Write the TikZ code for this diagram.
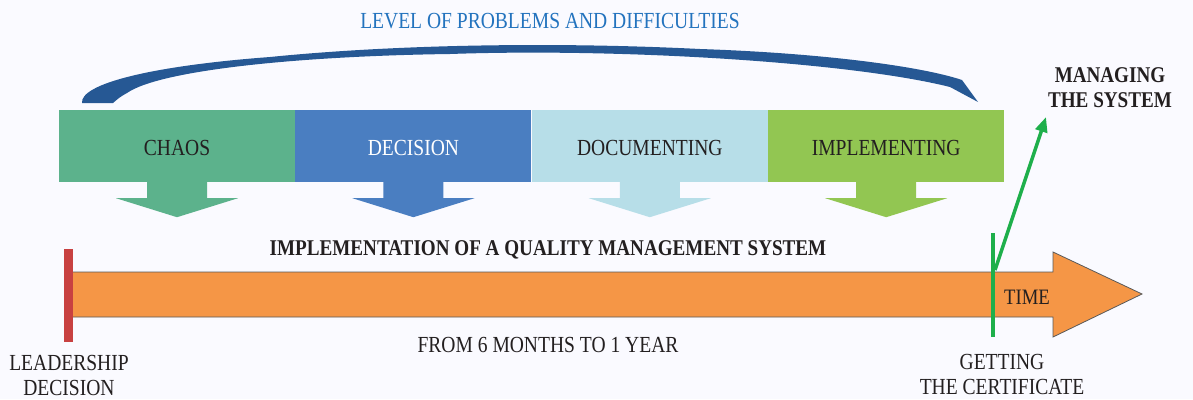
\documentclass[tikz,border=0pt]{standalone}
\usepackage{fontspec}
\setmainfont{Liberation Serif}[FakeStretch=0.85]
\usetikzlibrary{arrows.meta,calc,positioning}

\definecolor{titleblue}{RGB}{35,115,190}
\definecolor{arcblue}{RGB}{38,88,148}
\definecolor{chaosgreen}{RGB}{92,178,140}
\definecolor{decisionblue}{RGB}{74,126,193}
\definecolor{docblue}{RGB}{183,222,232}
\definecolor{implgreen}{RGB}{146,198,82}
\definecolor{timeorange}{RGB}{245,150,70}
\definecolor{leaderred}{RGB}{200,65,65}
\definecolor{certgreen}{RGB}{30,175,75}
\definecolor{inkgray}{RGB}{35,31,32}

\begin{document}
\begin{tikzpicture}[x=1pt,y=-1pt,
        phase/.style={minimum width=236pt,minimum height=72pt,inner sep=0pt,
            text height=19pt,text depth=0pt,text=inkgray,font=\fontsize{23}{26}\selectfont},
        note/.style={inner sep=0pt,text=inkgray,font=\fontsize{23}{26}\selectfont},
        bold note/.style={inner sep=0pt,text=inkgray,font=\fontsize{22.5}{25}\selectfont\bfseries},
        band/.style={fill=timeorange,draw=black!65,line width=0.8pt}
    ]

    % --- Page ---
    \fill[white!98!blue] (0,0) rectangle (1193,399);
    \useasboundingbox (0,0) rectangle (1193,399);

    % --- Level of problems ---
    \node[note,text=titleblue,anchor=base] (level) at (550,28) {LEVEL OF PROBLEMS AND DIFFICULTIES};
    \fill[arcblue] (82,103) .. controls (80,84) and (150,66) .. (270,57)
        .. controls (400,44) and (560,42) .. (700,49)
        .. controls (820,53) and (920,66) .. (962,80) -- (978,102) -- (950,87)
        .. controls (850,62) and (620,48) .. (450,54)
        .. controls (300,56) and (160,70) .. (127,93)
        .. controls (120,97) .. (113,103) -- cycle;

    % --- Phases ---
    \node[phase,fill=chaosgreen] (chaos) at (177,146) {CHAOS};
    \node[phase,fill=decisionblue,text=white,right=0pt of chaos] (decision) {DECISION};
    \node[phase,fill=docblue,right=0pt of decision] (documenting) {DOCUMENTING};
    \node[phase,fill=implgreen,right=0pt of documenting] (implementing) {IMPLEMENTING};
    \foreach \n/\c in {chaos/chaosgreen,decision/decisionblue,documenting/docblue,implementing/implgreen}
        \fill[\c] ($(\n.south)+(-30,-1)$) -- ++(0,17) -- ++(-31,0) -- ($(\n.south)+(0,35)$)
            -- ($(\n.south)+(61,16)$) -- ++(-31,0) -- ($(\n.south)+(30,-1)$) -- cycle;

    % --- Time axis ---
    \node[bold note,anchor=base] (qms) at (548,255) {IMPLEMENTATION OF A QUALITY MANAGEMENT SYSTEM};
    \draw[band] (72,272) -- (1053,272) -- (1053,252) -- (1142,294) -- (1053,337) -- (1053,317) -- (72,317);
    \node[note,font=\fontsize{22}{24}\selectfont,anchor=base] (time) at (1027,304) {TIME};
    \node[note,anchor=base] (duration) at (548,352) {FROM 6 MONTHS TO 1 YEAR};

    % --- Start: leadership decision ---
    \coordinate (start top) at (68.5,249);
    \coordinate (start bottom) at (68.5,342);
    \draw[leaderred,line width=9pt] (start top) -- (start bottom);
    \node[note,align=center,anchor=north,font=\fontsize{23}{25}\selectfont] (leader) at (69,355) {LEADERSHIP\\DECISION};

    % --- End: certificate and managing ---
    \coordinate (cert top) at (993,233);
    \coordinate (cert bottom) at (993,337);
    \coordinate (branch) at (995,270);
    \coordinate (mtip) at (1046,117);
    \draw[certgreen,line width=4pt] (cert top) -- (cert bottom);
    \draw[certgreen,line width=3.5pt,-{Triangle[length=15pt,width=12pt]}] (branch) -- (mtip);
    \node[note,align=center,anchor=north,font=\fontsize{23}{25}\selectfont] (cert) at (1002,354) {GETTING\\THE CERTIFICATE};
    \node[bold note,align=center,anchor=north] (managing) at (1110,67) {MANAGING\\THE SYSTEM};

\end{tikzpicture}
\end{document}
